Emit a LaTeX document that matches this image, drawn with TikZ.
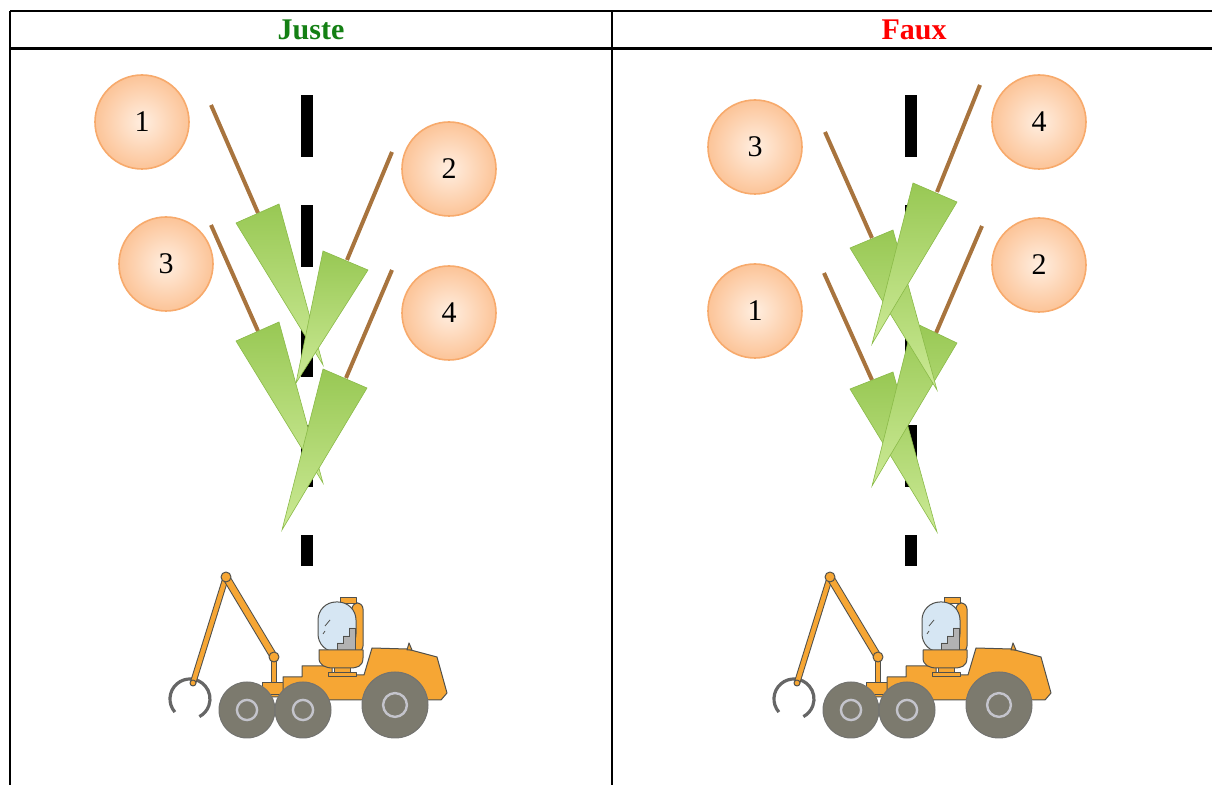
\documentclass[tikz,border=0pt]{standalone}
\usepackage{fontspec}
\setmainfont{Liberation Serif}
\usepackage{tikz}

\definecolor{justegreen}{RGB}{20,128,20}
\definecolor{fauxred}{RGB}{255,0,0}
\definecolor{peachin}{RGB}{255,238,224}
\definecolor{peachout}{RGB}{252,196,152}
\definecolor{peachline}{RGB}{247,170,108}
\definecolor{stembrown}{RGB}{168,116,62}
\definecolor{leaftop}{RGB}{152,200,84}
\definecolor{leafbot}{RGB}{204,234,150}
\definecolor{leafline}{RGB}{138,186,72}
\definecolor{harvorange}{RGB}{246,166,52}
\definecolor{harvline}{RGB}{80,80,76}
\definecolor{wheelgrey}{RGB}{124,122,110}
\definecolor{hubgrey}{RGB}{196,196,204}
\definecolor{glass}{RGB}{214,230,243}

\begin{document}
\begin{tikzpicture}[x=0.5pt, y=-0.5pt,
    rule/.style={line width=0.6pt},
    head/.style={font=\fontsize{15}{15}\selectfont\bfseries},
    num/.style={circle, minimum size=47pt, inner sep=0pt, draw=peachline, line width=0.8pt,
      inner color=peachin, outer color=peachout, font=\fontsize{15}{15}\selectfont},
    stem/.style={draw=stembrown, line width=2pt},
    leaf/.style={draw=leafline, line width=0.3pt, top color=leaftop, bottom color=leafbot},
    roadmark/.style={fill=black},
    body/.style={draw=harvline, line width=0.5pt, fill=harvorange, line join=round},
    arm/.style={draw=harvline, line width=0.5pt, double=harvorange, double distance=2.2pt},
    wheel/.style={draw=harvline!80, line width=0.5pt, fill=wheelgrey},
    hub/.style={draw=hubgrey, line width=1.2pt, fill=wheelgrey},
    claw/.style={draw=gray!80!black, line width=1.6pt}]
  \useasboundingbox (0,0) rectangle (1212,785);

  \draw[rule] (10,11) -- (1212,11);
  \draw[rule, line width=1.2pt] (10,48.5) -- (1212,48.5);
  \draw[rule] (10,11) -- (10,785);
  \draw[rule] (612,11) -- (612,785);

  \node[head, text=justegreen] (juste) at (311,30) {Juste};
  \node[head, text=fauxred] (faux) at (914,30) {Faux};

  \foreach \mx in {307,911}{
    \foreach \my in {95,205,315,425}
      \fill[roadmark] (\mx-6,\my) rectangle (\mx+6,\my+62);
    \fill[roadmark] (\mx-6,535) rectangle (\mx+6,566);
  }

  \node[num] (j1) at (142,122) {1};
  \node[num] (j2) at (449,169) {2};
  \node[num] (j3) at (166,264) {3};
  \node[num] (j4) at (449,313) {4};

  \draw[stem] (211,105) -- (258,213);
  \draw[stem] (392,152) -- (347,260);
  \draw[stem] (211,225) -- (258,331);
  \draw[stem] (392,270) -- (346,378);
  \draw[leaf] (236,223) -- (279,204) -- (323,365) -- cycle;
  \draw[leaf] (236,341) -- (279,322) -- (323,483) -- cycle;
  \draw[leaf] (323,251) -- (368,270) -- (296,383) -- cycle;
  \draw[leaf] (323,369) -- (367,388) -- (282,530) -- cycle;

  \node[num] (f3) at (755,147) {3};
  \node[num] (f4) at (1039,122) {4};
  \node[num] (f1) at (755,311) {1};
  \node[num] (f2) at (1039,265) {2};

  \draw[stem] (825,132) -- (872,238);
  \draw[stem] (980,85) -- (937,192);
  \draw[stem] (824,273) -- (872,380);
  \draw[stem] (982,226) -- (936,333);
  \draw[leaf] (850,389) -- (893,372) -- (937,532) -- cycle;
  \draw[leaf] (913,322) -- (957,343) -- (872,486) -- cycle;
  \draw[leaf] (850,248) -- (893,230) -- (937,390) -- cycle;
  \draw[leaf] (913,183) -- (957,202) -- (872,344) -- cycle;

  \foreach \dx in {0,604}{
    \begin{scope}[shift={(\dx,0)}]
      \draw[claw] (174.9,712.1) arc[start angle=139, end angle=422, radius=20];
      \draw[arm] (226,577) -- (193,683);
      \draw[arm, double distance=3pt] (226,577) -- (274,657);
      \draw[arm] (274,657) -- (274,692);
      \draw[body] (268,697) -- (274,684) -- (280,697) -- cycle;
      \foreach \jx/\jy/\jr in {226/577/5, 274/657/5, 193/683/3}
        \draw[body] (\jx,\jy) circle[radius=\jr];
      \draw[body] (262,683) rectangle (290,695);
      \draw[body] (283,677) -- (302,677) -- (302,666) -- (332,666) -- (332,675) -- (364,675)
        -- (372,648) -- (407,649) -- (437,657) -- (447,693) -- (441,700) -- (283,700) -- cycle;
      \draw[body] (407,650) -- (409,643) -- (412,650) -- cycle;
      \draw[body] (328,673) rectangle (356,677);
      \draw[body] (334,666) rectangle (350,673);
      \draw[body] (340,598) rectangle (356,604);
      \draw[body, rounded corners=3pt] (352,652) -- (352,603) -- (363,603) -- (363,652) -- cycle;
      \draw[draw=harvline, line width=0.5pt, fill=glass, rounded corners=9pt]
        (318,652) -- (318,602) -- (356,602) -- (356,652) -- cycle;
      \draw[draw=harvline, line width=0.3pt, fill=gray!60]
        (337,650) -- (337,643) -- (343,643) -- (343,636) -- (349,636) -- (349,628)
        -- (355,628) -- (355,650) -- cycle;
      \draw[harvline, line width=0.4pt] (325,626) -- (330,620) (323,634) -- (325,631);
      \draw[body] (319,650) -- (363,650) -- (363,658) .. controls (363,667) and (356,668) .. (350,668)
        -- (333,668) .. controls (325,668) and (319,665) .. (319,658) -- cycle;
      \foreach \wx/\wy/\wr in {247/710/28, 303/710/28, 395/705/33}{
        \draw[wheel] (\wx,\wy) circle[radius=\wr];
        \draw[hub] (\wx,\wy) circle[radius=\wr*0.36];
      }
    \end{scope}
  }
\end{tikzpicture}
\end{document}
